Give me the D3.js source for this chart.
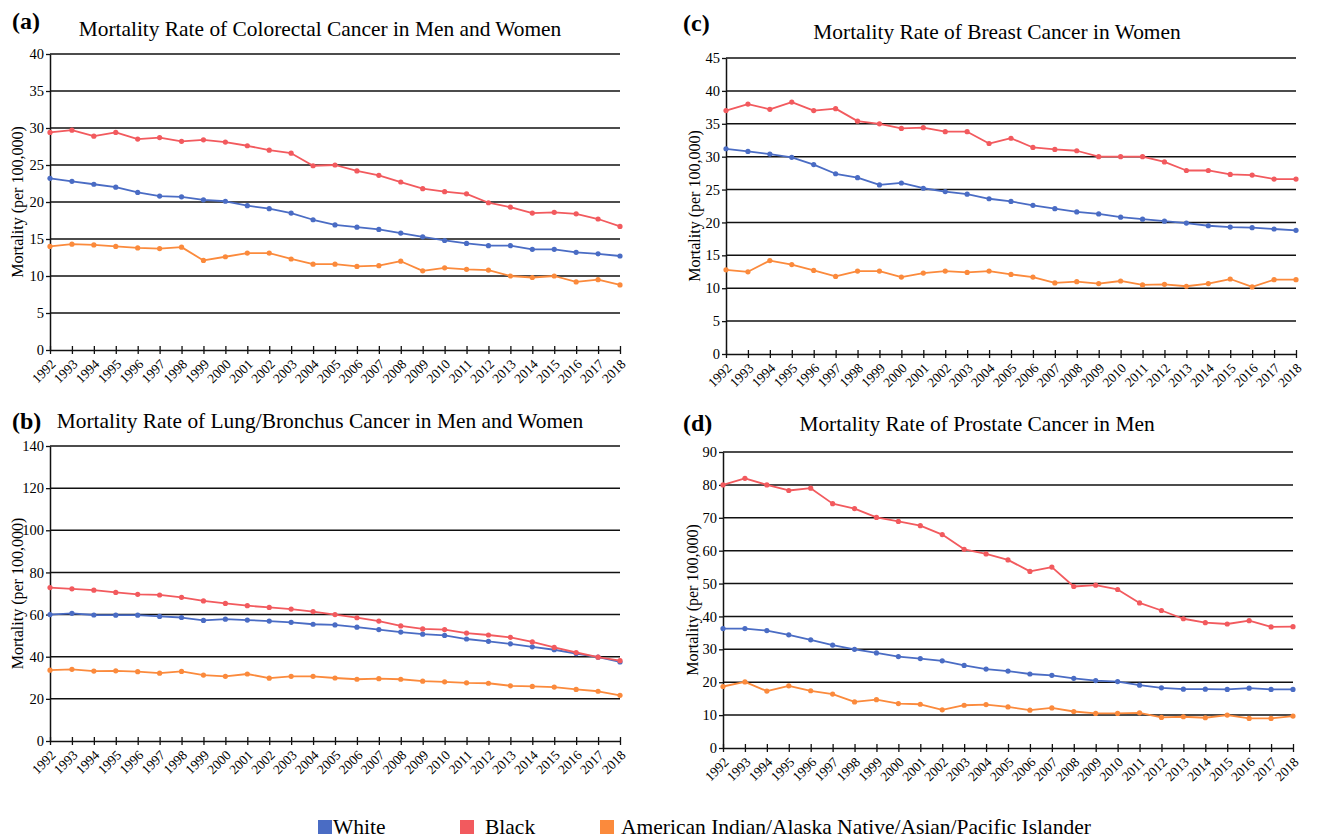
<!DOCTYPE html>
<html>
<head>
<meta charset="utf-8">
<script src="https://cdn.jsdelivr.net/npm/d3@7"></script>
<style>
  body { margin: 0; background: #fff; }
  svg text { font-family: "Liberation Serif", Tinos, "Times New Roman", "DejaVu Serif", serif !important; fill: #000; }
</style>
</head>
<body>
<svg id="fig" width="1317" height="840"></svg>
<script>
// years on the x axis (same for every panel)
var years = [1992, 1993, 1994, 1995, 1996, 1997, 1998, 1999, 2000, 2001, 2002, 2003, 2004, 2005,
  2006, 2007, 2008, 2009, 2010, 2011, 2012, 2013, 2014, 2015, 2016, 2017, 2018]

var seriesNames = ['White', 'Black', 'American Indian/Alaska Native/Asian/Pacific Islander']
var seriesColors = ['#4a6cc4', '#f25a5e', '#fb8a3c']

// (a) colorectal
var colorectalWhite = [23.2, 22.8, 22.4, 22.0, 21.3, 20.8, 20.7, 20.3, 20.1, 19.5, 19.1, 18.5, 17.6, 16.9,
  16.6, 16.3, 15.8, 15.3, 14.8, 14.4, 14.1, 14.1, 13.6, 13.6, 13.2, 13.0, 12.7]
var colorectalBlack = [29.4, 29.7, 28.9, 29.4, 28.5, 28.7, 28.2, 28.4, 28.1, 27.6, 27.0, 26.6, 24.9, 25.0,
  24.2, 23.6, 22.7, 21.8, 21.4, 21.1, 19.9, 19.3, 18.5, 18.6, 18.4, 17.7, 16.7]
var colorectalOther = [14.0, 14.3, 14.2, 14.0, 13.8, 13.7, 13.9, 12.1, 12.6, 13.1, 13.1, 12.3, 11.6, 11.6,
  11.3, 11.4, 12.0, 10.7, 11.1, 10.9, 10.8, 10.0, 9.8, 10.0, 9.2, 9.5, 8.8]

// (b) lung / bronchus
var lungWhite = [60.0, 60.6, 59.8, 59.7, 59.7, 59.1, 58.6, 57.2, 57.8, 57.4, 56.9, 56.3, 55.4, 55.1,
  54.0, 52.9, 51.7, 50.7, 50.1, 48.4, 47.3, 46.1, 44.7, 43.3, 41.5, 39.8, 37.5]
var lungBlack = [72.8, 72.2, 71.6, 70.5, 69.6, 69.3, 68.2, 66.5, 65.3, 64.2, 63.4, 62.6, 61.4, 60.0,
  58.5, 56.9, 54.6, 53.2, 52.9, 51.2, 50.3, 49.2, 47.0, 44.4, 42.0, 39.8, 38.1]
var lungOther = [33.6, 34.0, 33.2, 33.3, 32.9, 32.2, 33.0, 31.3, 30.7, 31.8, 29.8, 30.7, 30.7, 29.9,
  29.3, 29.6, 29.3, 28.4, 28.1, 27.6, 27.4, 26.2, 25.9, 25.6, 24.5, 23.6, 21.7]

// (c) breast
var breastWhite = [31.2, 30.8, 30.4, 29.9, 28.8, 27.4, 26.8, 25.7, 26.0, 25.2, 24.7, 24.3, 23.6, 23.2,
  22.6, 22.1, 21.6, 21.3, 20.8, 20.5, 20.2, 19.9, 19.5, 19.3, 19.2, 19.0, 18.8]
var breastBlack = [37.0, 38.0, 37.2, 38.3, 37.0, 37.3, 35.4, 35.0, 34.3, 34.4, 33.8, 33.8, 32.0, 32.8,
  31.4, 31.1, 30.9, 30.0, 30.0, 30.0, 29.2, 27.9, 27.9, 27.3, 27.2, 26.6, 26.6]
var breastOther = [12.8, 12.5, 14.2, 13.6, 12.7, 11.8, 12.6, 12.6, 11.7, 12.3, 12.6, 12.4, 12.6, 12.1,
  11.7, 10.8, 11.0, 10.7, 11.1, 10.5, 10.6, 10.3, 10.7, 11.4, 10.2, 11.3, 11.3]

// (d) prostate
var prostateWhite = [36.3, 36.3, 35.7, 34.4, 32.9, 31.3, 30.0, 28.9, 27.8, 27.2, 26.5, 25.1, 24.0, 23.4,
  22.5, 22.1, 21.2, 20.5, 20.2, 19.1, 18.3, 17.9, 17.9, 17.8, 18.2, 17.8, 17.8]
var prostateBlack = [80.0, 82.0, 80.0, 78.3, 79.0, 74.3, 72.8, 70.1, 68.9, 67.6, 64.9, 60.4, 59.0, 57.2,
  53.7, 55.0, 49.1, 49.5, 48.2, 44.1, 41.8, 39.3, 38.1, 37.7, 38.7, 36.8, 36.9]
var prostateOther = [18.7, 20.1, 17.3, 18.9, 17.4, 16.4, 14.0, 14.7, 13.5, 13.3, 11.6, 13.0, 13.2, 12.5,
  11.5, 12.2, 11.1, 10.5, 10.5, 10.7, 9.3, 9.5, 9.2, 10.0, 9.0, 9.0, 9.7]

// y tick values per panel
var ticksA = [0, 5, 10, 15, 20, 25, 30, 35, 40]
var ticksB = [0, 20, 40, 60, 80, 100, 120, 140]
var ticksC = [0, 5, 10, 15, 20, 25, 30, 35, 40, 45]
var ticksD = [0, 10, 20, 30, 40, 50, 60, 70, 80, 90]

var titles = [
  'Mortality Rate of Colorectal Cancer in Men and Women',
  'Mortality Rate of Lung/Bronchus Cancer in Men and Women',
  'Mortality Rate of Breast Cancer in Women',
  'Mortality Rate of Prostate Cancer in Men'
]
var letters = ['(a)', '(b)', '(c)', '(d)']
var yLabel = 'Mortality (per 100,000)'

// panel layout
var panels = [
  { letter: letters[0], title: titles[0], series: [colorectalWhite, colorectalBlack, colorectalOther], ticks: ticksA,
    left: 50, right: 620, top: 54, bottom: 350, titleX: 320, titleY: 36, letterX: 12, letterY: 29, labelX: 23 },
  { letter: letters[1], title: titles[1], series: [lungWhite, lungBlack, lungOther], ticks: ticksB,
    left: 50, right: 620, top: 446, bottom: 741, titleX: 320, titleY: 428, letterX: 12, letterY: 429, labelX: 23 },
  { letter: letters[2], title: titles[2], series: [breastWhite, breastBlack, breastOther], ticks: ticksC,
    left: 726, right: 1296, top: 58, bottom: 354, titleX: 997, titleY: 39, letterX: 683, letterY: 31, labelX: 700 },
  { letter: letters[3], title: titles[3], series: [prostateWhite, prostateBlack, prostateOther], ticks: ticksD,
    left: 723, right: 1293, top: 452, bottom: 748, titleX: 977, titleY: 431, letterX: 683, letterY: 431, labelX: 698 }
]

var svg = d3.select('#fig')

function drawPanel (p) {
  var g = svg.append('g')
  var x = d3.scalePoint().domain(years).range([p.left, p.right])
  var y = d3.scaleLinear().domain([0, d3.max(p.ticks)]).range([p.bottom, p.top])

  // horizontal gridlines
  g.append('g')
    .selectAll('line')
    .data(p.ticks.filter(function (d) { return d > 0 }))
    .enter()
    .append('line')
    .attr('x1', p.left)
    .attr('x2', p.right)
    .attr('y1', function (d) { return y(d) })
    .attr('y2', function (d) { return y(d) })
    .attr('stroke', '#111')
    .attr('stroke-width', 1.5)

  // x axis, ticks cross the axis line
  var gx = g.append('g')
    .attr('transform', 'translate(0,' + p.bottom + ')')
    .call(d3.axisBottom(x).tickSize(4).tickSizeOuter(0))
  gx.select('.domain').attr('stroke', '#111').attr('stroke-width', 1.5)
  gx.selectAll('.tick line').attr('y1', -4).attr('stroke', '#111').attr('stroke-width', 1.3)
  gx.selectAll('.tick text')
    .attr('x', 0)
    .attr('y', 0)
    .attr('dy', 0)
    .attr('font-size', 13.5)
    .style('text-anchor', 'end')
    .attr('transform', 'translate(6,15)rotate(-45)')

  // y axis
  var gy = g.append('g')
    .attr('transform', 'translate(' + p.left + ',0)')
    .call(d3.axisLeft(y).tickValues(p.ticks).tickSize(4).tickSizeOuter(0))
  gy.select('.domain').attr('stroke', '#111').attr('stroke-width', 1.5)
  gy.selectAll('.tick line').attr('stroke', '#111').attr('stroke-width', 1.3)
  gy.selectAll('.tick text')
    .attr('x', -6)
    .attr('font-size', 14.5)

  // series lines and markers
  var line = d3.line()
    .x(function (d, i) { return x(years[i]) })
    .y(function (d) { return y(d) })

  p.series.forEach(function (vals, k) {
    g.append('path')
      .datum(vals)
      .attr('fill', 'none')
      .attr('stroke', seriesColors[k])
      .attr('stroke-width', 1.8)
      .attr('stroke-linejoin', 'round')
      .attr('d', line)
    g.append('g')
      .selectAll('circle')
      .data(vals)
      .enter()
      .append('circle')
      .attr('cx', function (d, i) { return x(years[i]) })
      .attr('cy', function (d) { return y(d) })
      .attr('r', 2.6)
      .attr('fill', seriesColors[k])
  })

  // titles and labels
  g.append('text')
    .attr('x', p.titleX)
    .attr('y', p.titleY)
    .attr('text-anchor', 'middle')
    .attr('font-size', 21.4)
    .text(p.title)
  g.append('text')
    .attr('x', p.letterX)
    .attr('y', p.letterY)
    .attr('font-size', 24)
    .attr('font-weight', 'bold')
    .text(p.letter)
  g.append('text')
    .attr('transform', 'translate(' + p.labelX + ',' + ((p.top + p.bottom) / 2) + ')rotate(-90)')
    .attr('text-anchor', 'middle')
    .attr('font-size', 16)
    .text(yLabel)
}

panels.forEach(drawPanel)

// legend along the bottom
var legendX = [318, 460, 600]
var legend = svg.append('g').attr('transform', 'translate(0,827)')
seriesNames.forEach(function (name, k) {
  legend.append('rect')
    .attr('x', legendX[k])
    .attr('y', -7)
    .attr('width', 14)
    .attr('height', 14)
    .attr('fill', seriesColors[k])
  legend.append('text')
    .attr('x', legendX[k] + (k === 0 ? 15 : k === 1 ? 25 : 21))
    .attr('y', 7)
    .attr('font-size', 21.5)
    .text(name)
})
</script>
</body>
</html>
